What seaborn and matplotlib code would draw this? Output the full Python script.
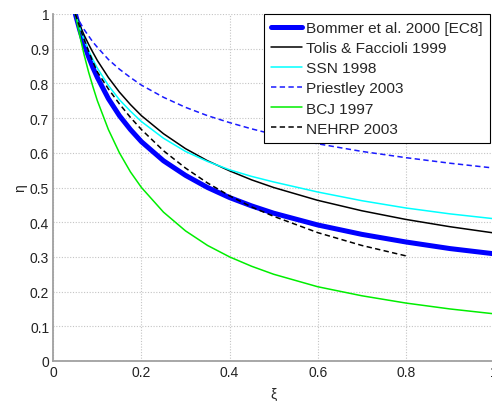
import matplotlib
matplotlib.use("Agg")
import matplotlib.pyplot as plt
from matplotlib.ticker import FuncFormatter
import seaborn as sns
import pandas as pd

# damping ratio grid (xi) and reduction factor (eta)
xi = [0.05, 0.06, 0.07, 0.08, 0.09, 0.10, 0.125, 0.15, 0.175, 0.20, 0.25,
      0.30, 0.35, 0.40, 0.45, 0.50, 0.60, 0.70, 0.80, 0.90, 1.00]

bommer = [1.000, 0.954, 0.913, 0.877, 0.845, 0.817, 0.756, 0.707, 0.667, 0.632, 0.577,
          0.535, 0.500, 0.471, 0.447, 0.426, 0.392, 0.365, 0.343, 0.324, 0.309]
tolis = [1.000, 0.968, 0.939, 0.913, 0.889, 0.866, 0.817, 0.775, 0.739, 0.707, 0.655,
         0.612, 0.577, 0.548, 0.522, 0.500, 0.463, 0.433, 0.408, 0.387, 0.369]
ssn = [1.000, 0.960, 0.925, 0.895, 0.868, 0.844, 0.794, 0.753, 0.720, 0.690, 0.642,
       0.604, 0.575, 0.551, 0.532, 0.516, 0.487, 0.462, 0.441, 0.424, 0.410]
priestley = [1.000, 0.977, 0.955, 0.937, 0.919, 0.904, 0.869, 0.841, 0.817, 0.795, 0.760,
             0.731, 0.707, 0.687, 0.669, 0.653, 0.626, 0.604, 0.586, 0.570, 0.556]
bcj = [1.000, 0.938, 0.882, 0.833, 0.790, 0.750, 0.667, 0.600, 0.545, 0.500, 0.429,
       0.375, 0.333, 0.300, 0.273, 0.250, 0.214, 0.188, 0.167, 0.150, 0.136]

xi_nehrp = [0.05, 0.06, 0.07, 0.08, 0.09, 0.10, 0.125, 0.15, 0.175, 0.20, 0.25,
            0.30, 0.35, 0.40, 0.45, 0.50, 0.60, 0.70, 0.80]
nehrp = [1.000, 0.962, 0.926, 0.893, 0.862, 0.833, 0.784, 0.741, 0.702, 0.667, 0.606,
         0.556, 0.513, 0.476, 0.444, 0.417, 0.370, 0.333, 0.303]

labels = ["Bommer et al. 2000 [EC8]", "Tolis & Faccioli 1999", "SSN 1998",
          "Priestley 2003", "BCJ 1997", "NEHRP 2003"]

sns.set_style("white")
plt.rcParams["font.family"] = ["Liberation Sans", "DejaVu Sans"]

fig = plt.figure(figsize=(4.92, 4.02), dpi=100)
ax = fig.add_axes([53.3 / 492, 1 - 362 / 402, 440.7 / 492, 347 / 402])

series = [
    (xi, bommer, labels[0], "#0000ff", 3.6, "-"),
    (xi, tolis, labels[1], "#000000", 1.1, "-"),
    (xi, ssn, labels[2], "#00ffff", 1.1, "-"),
    (xi, priestley, labels[3], "#1a1aff", 1.1, (0, (3.5, 2.2))),
    (xi, bcj, labels[4], "#00ee00", 1.1, "-"),
    (xi_nehrp, nehrp, labels[5], "#000000", 1.1, (0, (3.5, 2.2))),
]
for x, y, lab, col, lw, ls in series:
    df = pd.DataFrame({"xi": x, "eta": y})
    sns.lineplot(data=df, x="xi", y="eta", ax=ax, color=col, lw=lw,
                 linestyle=ls, label=lab, sort=False)

ax.set_xlim(0, 1)
ax.set_ylim(0, 1)
ax.set_xticks([0, 0.2, 0.4, 0.6, 0.8, 1.0])
ax.set_yticks([i / 10 for i in range(11)])
fmt = FuncFormatter(lambda v, p: f"{v:g}")
ax.xaxis.set_major_formatter(fmt)
ax.yaxis.set_major_formatter(fmt)
ax.tick_params(axis="both", labelsize=10, length=0, pad=3, colors="#222222")
ax.grid(True, linestyle=(0, (1, 1.5)), color="#c4c4c4", lw=0.8)
for s in ["top", "right"]:
    ax.spines[s].set_visible(False)
for s in ["left", "bottom"]:
    ax.spines[s].set_color("#a0a0a0")
    ax.spines[s].set_linewidth(1.3)

ax.set_xlabel("ξ", fontsize=10, labelpad=5)
ax.set_ylabel("η", fontsize=10, labelpad=2)

leg = ax.legend(loc="upper right", bbox_to_anchor=((490 - 53.3) / 440.7, 1.0),
                borderaxespad=0, fontsize=11.1, frameon=True, fancybox=False,
                framealpha=1, edgecolor="#000000", labelspacing=0.4,
                handlelength=2.0, handletextpad=0.3, borderpad=0.45)
leg.get_frame().set_linewidth(0.8)

fig.savefig("out.png", dpi=100)
